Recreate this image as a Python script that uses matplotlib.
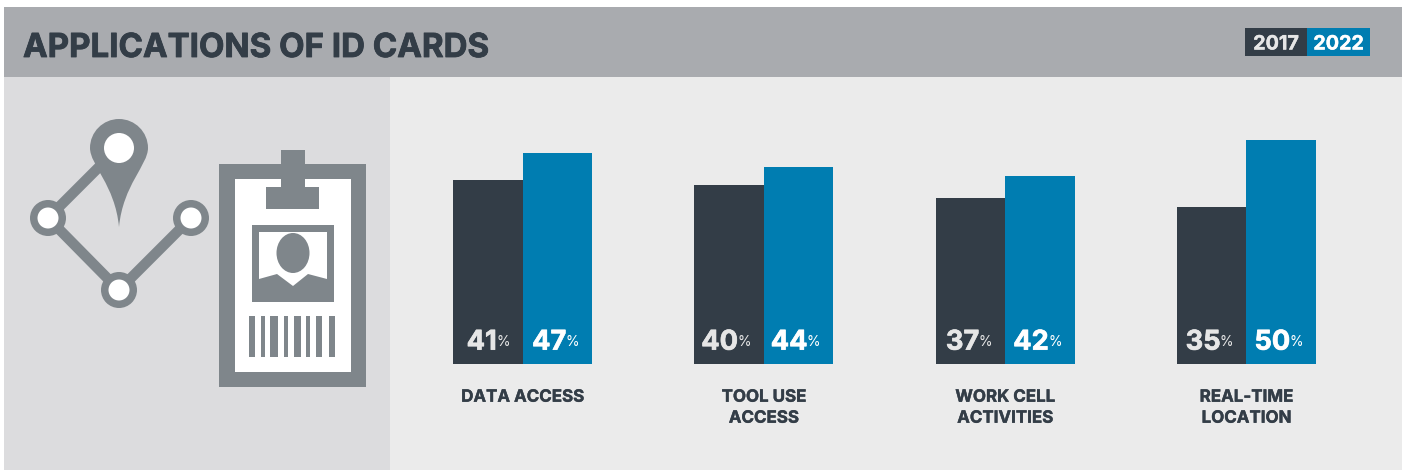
import numpy as np
import matplotlib
matplotlib.use("Agg")
import matplotlib.pyplot as plt
import matplotlib.patheffects as pe
from matplotlib.patches import Rectangle, Circle, Ellipse, PathPatch, Polygon
from matplotlib.path import Path

title = "APPLICATIONS OF ID CARDS"
categories = ["DATA ACCESS", "TOOL USE\nACCESS", "WORK CELL\nACTIVITIES", "REAL-TIME\nLOCATION"]
years = ["2017", "2022"]
values_2017 = [41, 40, 37, 35]
values_2022 = [47, 44, 42, 50]

dark = "#333d47"
blue = "#007db1"
icon = "#7f868b"

plt.rcParams["font.family"] = ["Inter", "DejaVu Sans"]

W, H = 1403, 470
fig = plt.figure(figsize=(W / 100, H / 100), dpi=100, facecolor="white")


def heavy(txt, color, width=0.4):
    # the original face is heavier than Inter bold
    txt.set_path_effects([pe.withStroke(linewidth=width, foreground=color)])


# background and icons are drawn in pixel coordinates
bg = fig.add_axes([0, 0, 1, 1])
bg.set_xlim(0, W)
bg.set_ylim(H, 0)
bg.axis("off")


def box(x0, y0, x1, y1, color, **kw):
    bg.add_patch(Rectangle((x0, y0), x1 - x0, y1 - y0, facecolor=color, edgecolor="none", **kw))


box(4, 7, 1402, 77, "#a9abaf")
box(4, 77, 390, 470, "#dcdcde")
box(390, 77, 1402, 470, "#ebebeb")

heavy(bg.text(23, 45, title, fontsize=23.8, fontweight="bold", color=dark, va="center_baseline", ha="left"), dark, 0.6)

box(1245, 28, 1307, 56, dark)
box(1307, 28, 1370, 56, blue)
heavy(bg.text(1276, 42.5, years[0], fontsize=14.2, fontweight="bold", color="#e6e6e6",
              ha="center", va="center_baseline"), "#e6e6e6", 0.3)
heavy(bg.text(1338.5, 42.5, years[1], fontsize=14.2, fontweight="bold", color="white",
              ha="center", va="center_baseline"), "white", 0.3)

# network icon
bg.plot([96, 48, 119, 191], [170, 218, 290, 218], color=icon, lw=7.5, solid_joinstyle="miter", zorder=2)
for cx, cy in [(48, 218), (191, 218), (119, 290)]:
    bg.add_patch(Circle((cx, cy), 18, facecolor=icon, edgecolor="none", zorder=3))
    bg.add_patch(Circle((cx, cy), 10.5, facecolor="white", edgecolor="none", zorder=4))

pin_verts = [
    (119, 119),
    (103, 119), (90, 132), (90, 148),
    (90, 165), (115, 185), (119, 227),
    (123, 185), (148, 165), (148, 148),
    (148, 132), (135, 119), (119, 119),
]
pin_codes = [Path.MOVETO] + [Path.CURVE4] * 12
bg.add_patch(PathPatch(Path(pin_verts, pin_codes), facecolor=icon, edgecolor="none", zorder=5))
bg.add_patch(Circle((119, 148), 15, facecolor="white", edgecolor="none", zorder=6))

# id card icon
box(219, 164, 366, 387, icon)
box(235, 179, 351, 372, "white")
box(281, 150, 305, 187, icon)
box(266, 187, 319, 209, icon)
box(252, 225, 334, 302, icon)
bg.add_patch(Polygon([(259, 232), (327, 232), (327, 279), (308, 274), (293, 286), (277, 274), (259, 279)],
                     closed=True, facecolor="white", edgecolor="none"))
bg.add_patch(Ellipse((293, 253), 33, 40, facecolor=icon, edgecolor="none"))
for x0, x1 in [(249, 255), (261, 265), (270, 278), (284, 288), (294, 301), (306, 310), (316, 322), (329, 335)]:
    box(x0, 316, x1, 357, icon)

# bars, one group per unit on x, baseline at y=364 px
ax = fig.add_axes([402 / W, (H - 364) / H, 965 / W, 268.8 / H])
ax.patch.set_alpha(0)
ax.set_xlim(-0.5, 3.5)
ax.set_ylim(0, 60)
ax.axis("off")

x = np.arange(len(categories))
bar_w = 0.2884
ax.bar(x - bar_w / 2, values_2017, bar_w, color=dark, linewidth=0)
ax.bar(x + bar_w / 2, values_2022, bar_w, color=blue, linewidth=0)

for i in x:
    for off, val, col in [(-bar_w / 2, values_2017[i], "#e6e6e6"), (bar_w / 2, values_2022[i], "white")]:
        t = ax.annotate(str(val), (i + off, 0), xytext=(6.5, 6), textcoords="offset points",
                        ha="right", va="bottom", fontsize=19.6, fontweight="bold", color=col)
        heavy(t, col, 0.5)
        ax.annotate("%", (i + off, 0), xytext=(6, 10.5), textcoords="offset points",
                    ha="left", va="bottom", fontsize=10, color=col)
    t = ax.annotate(categories[i], (i, 0), xytext=(0, -18.5), textcoords="offset points",
                    ha="center", va="top", fontsize=12.2, fontweight="bold", color=dark, linespacing=1.5)
    heavy(t, dark, 0.3)

fig.savefig("out.png", dpi=100, facecolor="white")
